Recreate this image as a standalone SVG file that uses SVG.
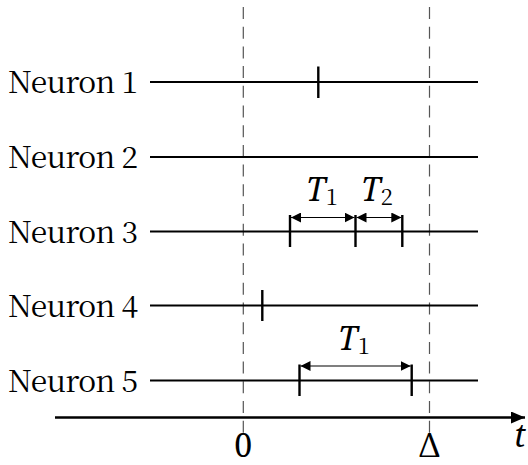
<svg xmlns="http://www.w3.org/2000/svg" width="528" height="465" viewBox="0 0 528 465">
<defs>
<style>
text{font-family:'Noto Serif CJK SC','Noto Serif',serif;font-size:30px;fill:#000}
.it{font-family:'Noto Serif',serif;font-style:italic;font-size:32px}
.sub{font-family:'Noto Serif CJK SC','Noto Serif',serif;font-size:22px;font-style:normal}
.math{font-family:'Noto Serif',serif;font-size:32px}
.dash{stroke:#555;stroke-width:1.2;stroke-dasharray:12 7.7;fill:none}
.line{stroke:#000;stroke-width:2.2;fill:none}
.tick{stroke:#000;stroke-width:2.4;fill:none}
.arr{stroke:#000;stroke-width:1.2;fill:none;marker-start:url(#ah);marker-end:url(#ah)}
</style>
<marker id="ah" viewBox="0 0 10 10" refX="10" refY="5" markerWidth="10" markerHeight="10" markerUnits="userSpaceOnUse" orient="auto-start-reverse">
<path d="M0,0 L10,5 L0,10 Z" fill="#000"/>
</marker>
<marker id="axh" viewBox="0 0 14 12" refX="14" refY="6" markerWidth="14" markerHeight="12" markerUnits="userSpaceOnUse" orient="auto">
<path d="M0,0 L14,6 L0,12 Z" fill="#000"/>
</marker>
</defs>
<g id="guides">
<line class="dash" x1="243.3" y1="7" x2="243.3" y2="440"/>
<line class="dash" x1="429.5" y1="7" x2="429.5" y2="440"/>
</g>
<g id="neuron1">
<text x="138" y="93" text-anchor="end" textLength="130" lengthAdjust="spacing">Neuron 1</text>
<line class="line" x1="150" y1="82" x2="478" y2="82"/>
<line class="tick" x1="318.3" y1="66.5" x2="318.3" y2="98"/>
</g>
<g id="neuron2">
<text x="138" y="168" text-anchor="end" textLength="130" lengthAdjust="spacing">Neuron 2</text>
<line class="line" x1="150" y1="157" x2="478" y2="157"/>
</g>
<g id="neuron3">
<text x="138" y="243" text-anchor="end" textLength="130" lengthAdjust="spacing">Neuron 3</text>
<line class="line" x1="150" y1="231.5" x2="478" y2="231.5"/>
<line class="tick" x1="290" y1="215" x2="290" y2="247"/>
<line class="tick" x1="355.5" y1="215" x2="355.5" y2="247"/>
<line class="tick" x1="402.3" y1="215" x2="402.3" y2="247"/>
</g>
<g id="neuron4">
<text x="138" y="317" text-anchor="end" textLength="130" lengthAdjust="spacing">Neuron 4</text>
<line class="line" x1="150" y1="305.5" x2="478" y2="305.5"/>
<line class="tick" x1="262.3" y1="290" x2="262.3" y2="321"/>
</g>
<g id="neuron5">
<text x="138" y="392" text-anchor="end" textLength="130" lengthAdjust="spacing">Neuron 5</text>
<line class="line" x1="150" y1="380.5" x2="478" y2="380.5"/>
<line class="tick" x1="299.5" y1="364.5" x2="299.5" y2="396"/>
<line class="tick" x1="411.7" y1="364.5" x2="411.7" y2="396"/>
</g>
<g id="connectors">
<line class="arr" x1="291" y1="217.5" x2="354.5" y2="217.5"/>
<line class="arr" x1="356.5" y1="217.5" x2="401.3" y2="217.5"/>
<line class="arr" x1="300.5" y1="366" x2="410.7" y2="366"/>
<line stroke="#000" stroke-width="2.4" x1="55" y1="417.5" x2="525" y2="417.5" marker-end="url(#axh)"/>
</g>
<g id="labels">
<text x="306" y="201"><tspan class="it">T</tspan><tspan class="sub" dy="4">1</tspan></text>
<text x="361" y="201"><tspan class="it">T</tspan><tspan class="sub" dy="4">2</tspan></text>
<text x="338" y="350"><tspan class="it">T</tspan><tspan class="sub" dy="4">1</tspan></text>
<text class="math" x="243.3" y="457" text-anchor="middle">0</text>
<text class="math" x="429.5" y="457" text-anchor="middle">Δ</text>
<text class="it" x="514" y="447">t</text>
</g>
</svg>
